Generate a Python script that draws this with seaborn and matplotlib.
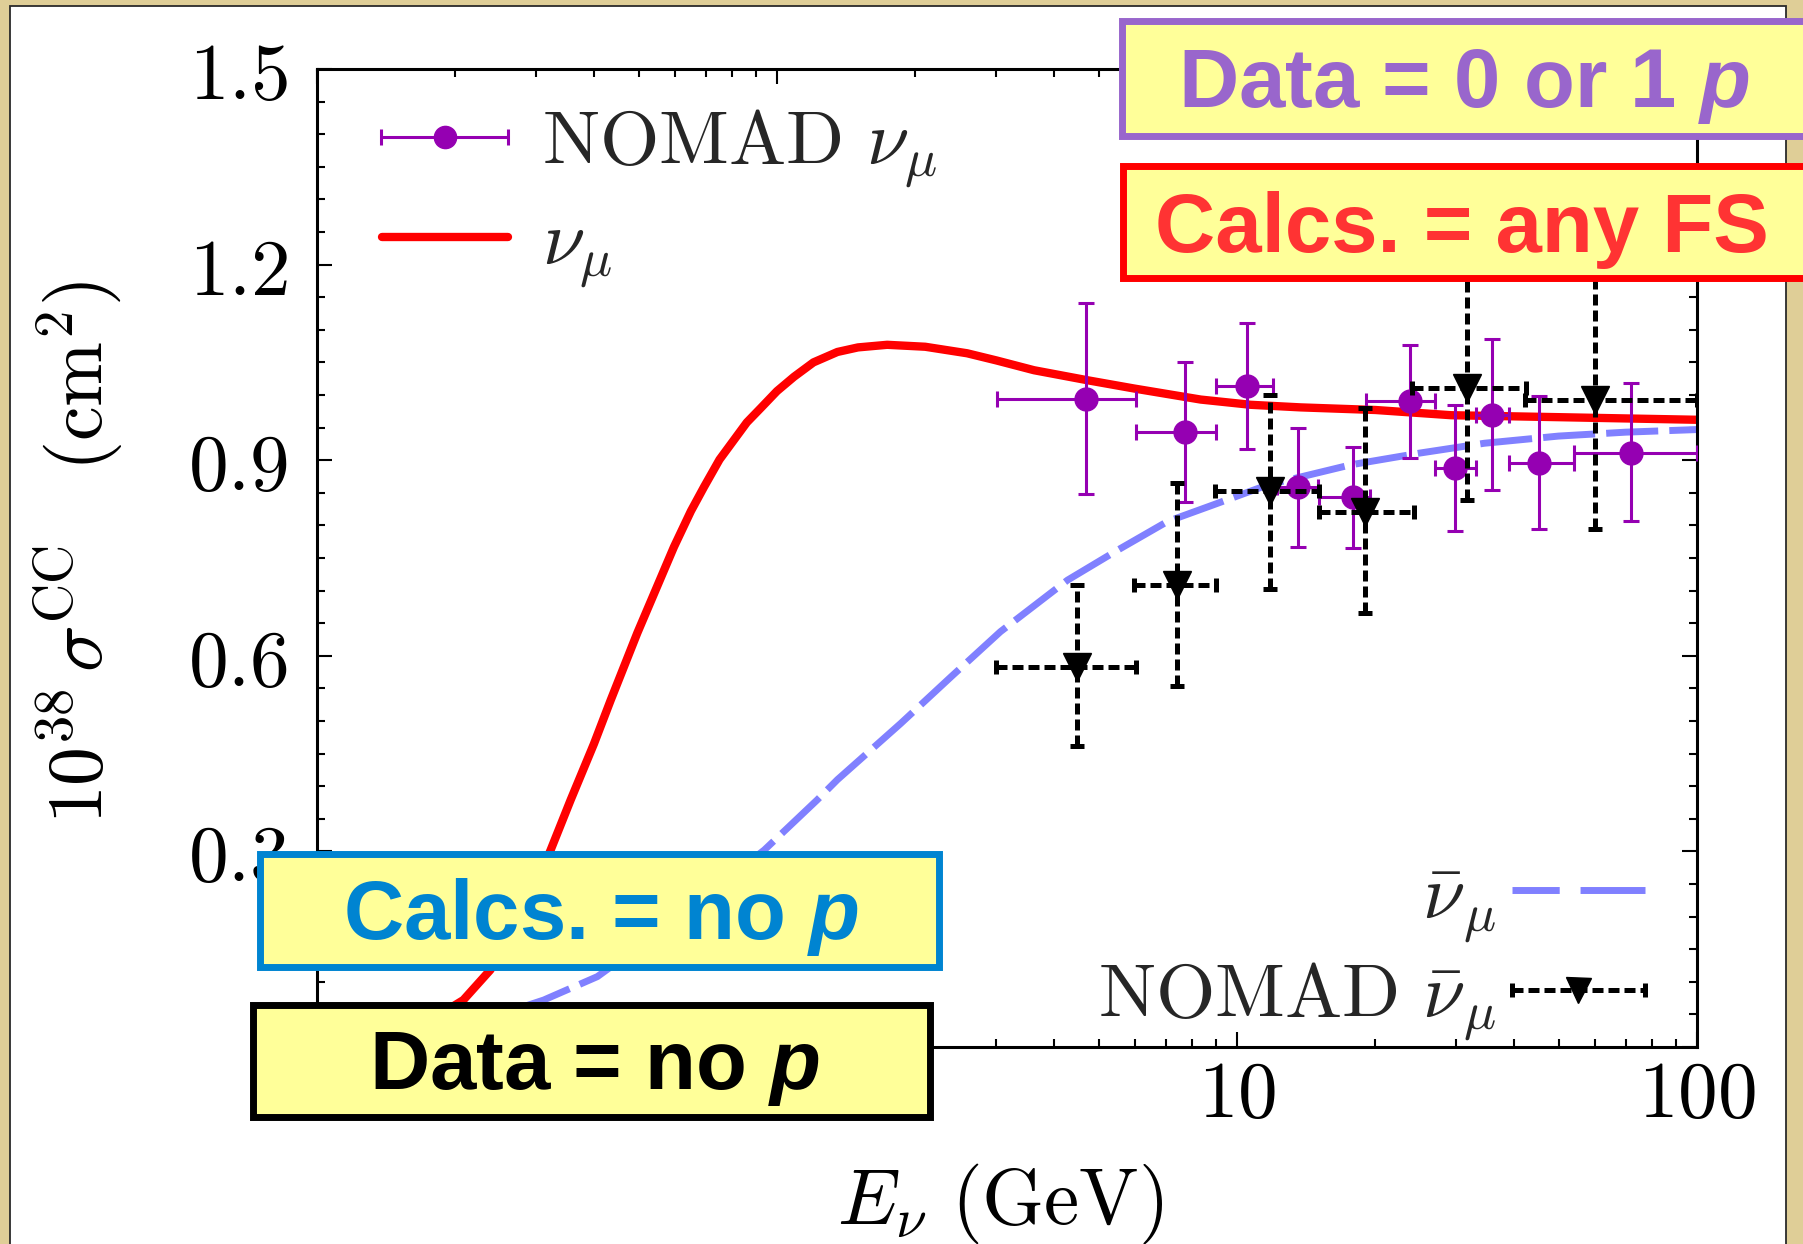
import numpy as np
import matplotlib
matplotlib.use("Agg")
import matplotlib.pyplot as plt
import seaborn as sns
from matplotlib.patches import Rectangle
from matplotlib.lines import Line2D
from matplotlib.legend_handler import HandlerErrorbar
from matplotlib.ticker import FixedLocator, FixedFormatter, NullFormatter

# ---------------- calculated cross sections ----------------
nu_energy = [0.11, 0.13, 0.16, 0.19, 0.208, 0.238, 0.28, 0.322, 0.356, 0.40,
             0.435, 0.497, 0.597, 0.65, 0.694, 0.75, 0.806, 0.86, 0.922, 1.0,
             1.089, 1.2, 1.353, 1.5, 1.736, 2.1, 2.59, 3.0, 3.62, 4.70,
             5.97, 8.34, 10.7, 13.76, 20.0, 29.2, 50.0, 100.0]
nu_sigma = [0.0, 0.008, 0.03, 0.055, 0.072, 0.118, 0.20, 0.302, 0.379, 0.465,
            0.532, 0.635, 0.767, 0.822, 0.859, 0.901, 0.931, 0.958, 0.980, 1.006,
            1.028, 1.050, 1.066, 1.073, 1.077, 1.074, 1.064, 1.053, 1.038, 1.023,
            1.010, 0.993, 0.985, 0.981, 0.977, 0.969, 0.966, 0.962]

nubar_energy = [0.11, 0.15, 0.2, 0.25, 0.311, 0.407, 0.55, 0.7, 0.938, 1.223,
                1.353, 1.856, 2.4, 3.06, 4.28, 5.5, 7.06, 9.0, 11.65, 17.7,
                25.0, 34.5, 50.0, 70.0, 100.0]
nubar_sigma = [0.0, 0.012, 0.03, 0.05, 0.072, 0.108, 0.175, 0.232, 0.302, 0.379,
               0.41, 0.496, 0.569, 0.637, 0.716, 0.762, 0.806, 0.833, 0.862, 0.893,
               0.911, 0.926, 0.937, 0.943, 0.947]

# ---------------- NOMAD neutrino data ----------------
nomad_nu_E = [4.70, 7.71, 10.49, 13.54, 17.84, 23.8, 29.8, 35.8, 45.4, 71.9]
nomad_nu_Elo = [3.01, 6.03, 9.0, 12.2, 15.1, 19.05, 26.9, 33.0, 39.1, 54.1]
nomad_nu_Ehi = [6.03, 9.01, 11.98, 15.0, 19.5, 26.9, 33.1, 39.1, 54.1, 100.0]
nomad_nu_sigma = [0.994, 0.943, 1.014, 0.859, 0.844, 0.991, 0.888, 0.970, 0.895, 0.911]
nomad_nu_lo = [0.848, 0.836, 0.917, 0.767, 0.766, 0.904, 0.791, 0.855, 0.794, 0.806]
nomad_nu_hi = [1.141, 1.050, 1.110, 0.949, 0.921, 1.077, 0.985, 1.086, 0.999, 1.019]

# ---------------- NOMAD antineutrino data ----------------
nomad_nubar_E = [4.50, 7.40, 11.8, 19.0, 31.6, 60.1]
nomad_nubar_Elo = [3.0, 5.98, 8.95, 15.1, 24.0, 42.2]
nomad_nubar_Ehi = [6.03, 9.0, 15.1, 24.2, 42.4, 100.0]
nomad_nubar_sigma = [0.583, 0.709, 0.852, 0.821, 1.010, 0.992]
nomad_nubar_lo = [0.461, 0.554, 0.702, 0.665, 0.839, 0.794]
nomad_nubar_hi = [0.708, 0.865, 1.000, 0.980, 1.181, 1.190]

# ---------------- axis ticks ----------------
x_major = [0.1, 1, 10, 100]
x_major_labels = ["", "", "$10$", "$100$"]
y_major = [0.0, 0.3, 0.6, 0.9, 1.2, 1.5]
y_major_labels = ["", "$0.3$", "$0.6$", "$0.9$", "$1.2$", "$1.5$"]

sns.set_theme(style="ticks")
plt.rcParams.update({
    "font.family": ["DejaVu Sans"],
    "mathtext.fontset": "cm",
    "mathtext.rm": "Liberation Sans:bold",
    "mathtext.it": "Liberation Sans:italic:bold",
    "mathtext.bf": "Liberation Sans:bold",
    "mathtext.sf": "Liberation Sans:bold",
    "axes.linewidth": 2.2,
    "axes.edgecolor": "black",
})

W, H = 1803, 1244
fig = plt.figure(figsize=(W / 100, H / 100), dpi=100)
fig.patch.set_facecolor("#DFCE97")

def fx(px):
    return px / W

def fy(py):
    return 1 - py / H

# white slide panel
panel = Rectangle((fx(10), -0.01), (1786 - 10) / W, fy(6) + 0.01,
                  transform=fig.transFigure, facecolor="white",
                  edgecolor="#2a2a2a", lw=1.3, zorder=-5)
fig.add_artist(panel)

ax = fig.add_axes([fx(317), fy(1047), 1380 / W, 978 / H])
ax.set_facecolor("white")

PURPLE = "#9500B2"
RED = "#FF0000"
LBLUE = "#8080FF"
BLUE_DASH = (0, (7.5, 1.6))
BLACK_DASH = (0, (2.2, 1.0))

sns.lineplot(x=nubar_energy, y=nubar_sigma, ax=ax, color=LBLUE, lw=5.0,
             linestyle=BLUE_DASH, sort=False, estimator=None, zorder=2)
sns.lineplot(x=nu_energy, y=nu_sigma, ax=ax, color=RED, lw=6.0,
             sort=False, estimator=None, zorder=2.5)

E = np.array(nomad_nu_E)
S = np.array(nomad_nu_sigma)
eb_nu = ax.errorbar(E, S,
                    xerr=[E - np.array(nomad_nu_Elo), np.array(nomad_nu_Ehi) - E],
                    yerr=[S - np.array(nomad_nu_lo), np.array(nomad_nu_hi) - S],
                    fmt="o", color=PURPLE, ms=16.5, lw=2.2, capsize=6, capthick=2.2,
                    zorder=3)

Eb = np.array(nomad_nubar_E)
Sb = np.array(nomad_nubar_sigma)
eb_nubar = ax.errorbar(Eb, Sb,
                       xerr=[Eb - np.array(nomad_nubar_Elo), np.array(nomad_nubar_Ehi) - Eb],
                       yerr=[Sb - np.array(nomad_nubar_lo), np.array(nomad_nubar_hi) - Sb],
                       fmt="v", color="black", ms=20, lw=3.6, capsize=5, capthick=3.6,
                       zorder=4)
for coll in eb_nubar[2]:
    coll.set_linestyle(BLACK_DASH)

# legend proxies (horizontal bars only)
leg_nu = ax.errorbar([np.nan], [np.nan], xerr=[1.0], fmt="o", color=PURPLE, ms=16,
                     lw=2.2, capsize=6, capthick=2.2)
leg_nubar = ax.errorbar([np.nan], [np.nan], xerr=[1.0], fmt="v", color="black", ms=18,
                        lw=3.6, capsize=5, capthick=3.6)
for coll in leg_nubar[2]:
    coll.set_linestyle(BLACK_DASH)
red_proxy = Line2D([], [], color=RED, lw=6.0)
blue_proxy = Line2D([], [], color=LBLUE, lw=5.0, linestyle=(0, (6.8, 3.0, 14, 1)))

ax.set_xscale("log")
ax.set_xlim(0.1, 100)
ax.set_ylim(0, 1.5)
ax.xaxis.set_major_locator(FixedLocator(x_major))
ax.xaxis.set_major_formatter(FixedFormatter(x_major_labels))
ax.xaxis.set_minor_locator(FixedLocator([k * 10.0 ** d for d in (-1, 0, 1) for k in range(2, 10)]))
ax.xaxis.set_minor_formatter(NullFormatter())
ax.yaxis.set_major_locator(FixedLocator(y_major))
ax.yaxis.set_major_formatter(FixedFormatter(y_major_labels))
ax.yaxis.set_minor_locator(FixedLocator(np.arange(0, 1.5001, 0.05)))

ax.tick_params(which="both", direction="in", top=True, right=True, color="black",
               width=1.5, labelsize=57, labelcolor="black")
ax.tick_params(which="major", length=11)
ax.tick_params(which="minor", length=5.5)
ax.tick_params(axis="x", which="major", pad=7)
ax.tick_params(axis="y", which="major", pad=21)
for sp in ax.spines.values():
    sp.set_visible(True)
    sp.set_linewidth(2.2)
    sp.set_color("black")

ax.set_xlabel(r"$E_\nu\ (\mathrm{GeV})$", fontsize=57, color="black")
ax.xaxis.set_label_coords(0.495, -0.117)
ax.set_ylabel(r"$10^{38}\,\sigma^{\mathrm{CC}}\quad(\mathrm{cm}^2)$", fontsize=56, color="black")
ax.yaxis.set_label_coords(-0.138, 0.506)

leg1 = ax.legend([leg_nu, red_proxy], [r"$\mathrm{NOMAD}\ \nu_\mu$", r"$\nu_\mu$"],
                 loc="upper left", bbox_to_anchor=(0.047, 0.962), frameon=False,
                 prop={"size": 55}, handlelength=1.65, handletextpad=0.45,
                 labelspacing=0.2, borderpad=0, borderaxespad=0,
                 handler_map={leg_nu: HandlerErrorbar(xerr_size=0.83)})
ax.add_artist(leg1)
leg2 = ax.legend([blue_proxy, leg_nubar], [r"$\bar{\nu}_\mu$", r"$\mathrm{NOMAD}\ \bar{\nu}_\mu$"],
                 loc="lower right", bbox_to_anchor=(0.962, 0.004), frameon=False,
                 prop={"size": 55}, handlelength=1.74, handletextpad=0.2,
                 labelspacing=0.2, borderpad=0, borderaxespad=0, markerfirst=False,
                 handler_map={leg_nubar: HandlerErrorbar(xerr_size=0.87)})

# annotation boxes
def note(x0, y0, x1, y1, edge, text, tcolor, cx, base):
    rect = Rectangle((fx(x0), fy(y1)), (x1 - x0) / W, (y1 - y0) / H,
                     transform=fig.transFigure, facecolor="#FFFF99",
                     edgecolor=edge, lw=5, zorder=10, clip_on=False)
    fig.add_artist(rect)
    fig.text(fx(cx), fy(base), text, ha="center", va="baseline", fontsize=60,
             family="Liberation Sans", fontweight="bold", color=tcolor,
             math_fontfamily="custom", zorder=11)

note(1122, 21, 1840, 135.5, "#9966CC", r"Data = 0 or 1 $p$", "#9966CC", 1464, 107.5)
note(1123, 165.7, 1840, 278, "#FF0000", "Calcs. = any FS", "#FF3333", 1461.5, 252)
note(260, 853.5, 939, 966.5, "#0084D1", r"Calcs. = no $p$", "#0084D1", 601, 939)
note(252.6, 1004.5, 930, 1117, "#000000", r"Data = no $p$", "#000000", 595, 1089)

fig.savefig("out.png", dpi=100, facecolor=fig.get_facecolor())
